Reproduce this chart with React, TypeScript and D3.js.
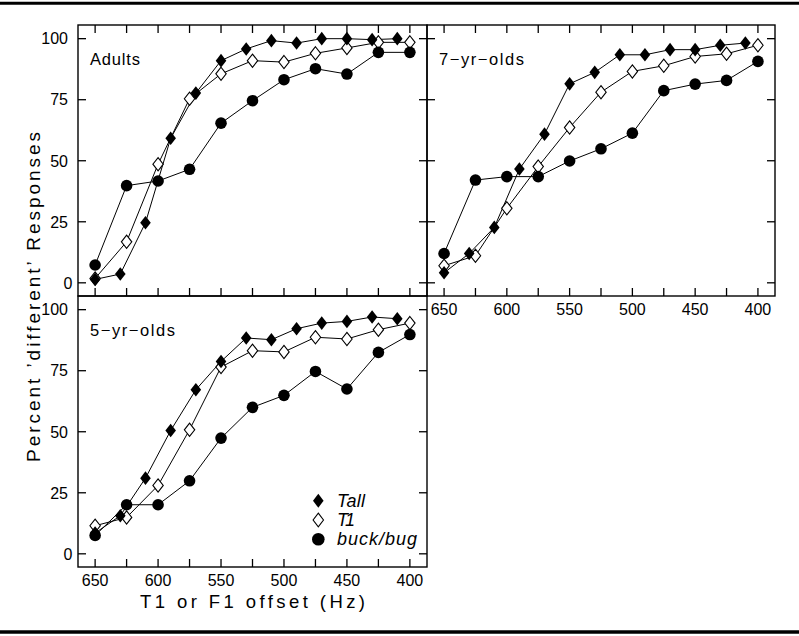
import React from "react";
import * as d3 from "d3";

// ---- data ----
const tallHz = [650, 630, 610, 590, 570, 550, 530, 510, 490, 470, 450, 430, 410];
const t1Hz = [650, 625, 600, 575, 550, 525, 500, 475, 450, 425, 400];
const buckHz = [650, 625, 600, 575, 550, 525, 500, 475, 450, 425, 400];

const adultsTall = [1.4, 3.6, 24.6, 59.2, 77.7, 91, 95.8, 99.2, 98.2, 100, 100, 99.6, 100];
const adultsT1 = [1.8, 16.8, 48.6, 75.4, 85.6, 91, 90.4, 94, 96.2, 98.5, 98.5];
const adultsBuck = [7.3, 39.8, 41.7, 46.5, 65.4, 74.6, 83.2, 87.7, 85.5, 94.4, 94.4];

const sevenTall = [4.1, 12, 22.7, 46.6, 60.9, 81.5, 86.2, 93.4, 93.4, 95.5, 95.5, 97.3, 98.2];
const sevenT1 = [7, 11.1, 30.5, 47.6, 63.6, 78.1, 86.6, 88.9, 92.7, 93.8, 97.3];
const sevenBuck = [12, 42.1, 43.5, 43.5, 49.9, 54.9, 61.3, 78.7, 81.4, 82.9, 90.7];

const fiveTall = [8.5, 15.6, 31, 50.5, 67.2, 78.8, 88.4, 87.7, 92.2, 94.5, 95.2, 97, 96.3];
const fiveT1 = [11.5, 14.9, 28, 50.8, 76.5, 83.2, 82.7, 88.7, 88, 91.8, 94.5];
const fiveBuck = [7.5, 20.1, 20.1, 29.9, 47.4, 60, 64.9, 74.7, 67.5, 82.5, 89.8];

const xTicks = [650, 625, 600, 575, 550, 525, 500, 475, 450, 425, 400];
const xTickLabels = [650, 600, 550, 500, 450, 400];
const yTicks = [0, 25, 50, 75, 100];
const legendLabels = ["Tall", "T1", "buck/bug"];

const FONT = "'Liberation Sans', Arial, sans-serif";

// layout
const colX = [78, 427, 775];
const rowY = [25, 296, 567];
const TICK = 8;

type PanelProps = {
  col: number;
  row: number;
  label: string;
  tall: number[];
  t1: number[];
  buck: number[];
  top: boolean;
  xLabels: boolean;
  yLabels: boolean;
};

const diamond = (hw: number, hh: number) => `M0,${-hh}L${hw},0L0,${hh}L${-hw},0Z`;

function Panel(p: PanelProps) {
  const x0 = colX[p.col], x1 = colX[p.col + 1];
  const y0 = rowY[p.row], y1 = rowY[p.row + 1];
  const x = d3.scaleLinear().domain([663.6, 386.4]).range([x0, x1]);
  const y = d3.scaleLinear().domain([-5.4, 105.6]).range([y1, y0]);
  const line = d3
    .line<[number, number]>()
    .x((d) => x(d[0]))
    .y((d) => y(d[1]));
  const zip = (hz: number[], v: number[]) => hz.map((h, i) => [h, v[i]] as [number, number]);
  const tall = zip(tallHz, p.tall);
  const t1 = zip(t1Hz, p.t1);
  const buck = zip(buckHz, p.buck);
  return (
    <g>
      <rect x={x0} y={y0} width={x1 - x0} height={y1 - y0} fill="none" stroke="#000" strokeWidth={1.4} />
      {xTicks.map((t) => (
        <g key={"xt" + t}>
          <line x1={x(t)} x2={x(t)} y1={y1} y2={y1 - TICK} stroke="#000" strokeWidth={1.3} />
          {p.top && <line x1={x(t)} x2={x(t)} y1={y0} y2={y0 + TICK} stroke="#000" strokeWidth={1.3} />}
        </g>
      ))}
      {yTicks.map((t) => (
        <g key={"yt" + t}>
          <line x1={x0} x2={x0 + TICK} y1={y(t)} y2={y(t)} stroke="#000" strokeWidth={1.3} />
          <line x1={x1} x2={x1 - TICK} y1={y(t)} y2={y(t)} stroke="#000" strokeWidth={1.3} />
          {p.yLabels && (
            <text x={t === 0 ? x0 - 5.5 : x0 - 10} y={y(t)} dy="0.36em" textAnchor="end" fontSize={16} fontFamily={FONT}>
              {t}
            </text>
          )}
        </g>
      ))}
      {p.xLabels &&
        xTickLabels.map((t) => (
          <text key={"xl" + t} x={x(t)} y={y1 + 18.5} textAnchor="middle" fontSize={16} fontFamily={FONT}>
            {t}
          </text>
        ))}
      <text x={x0 + 12} y={y0 + 40} fontSize={16.5} fontFamily={FONT} textLength={p.label.length > 6 ? 85 : 50} lengthAdjust="spacing">
        {p.label}
      </text>
      <path d={line(tall) || ""} fill="none" stroke="#000" strokeWidth={1} />
      <path d={line(t1) || ""} fill="none" stroke="#000" strokeWidth={1} />
      <path d={line(buck) || ""} fill="none" stroke="#000" strokeWidth={1} />
      {t1.map((d, i) => (
        <path key={"h" + i} d={diamond(5.2, 6.6)} transform={`translate(${x(d[0])},${y(d[1])})`} fill="#fff" stroke="#000" strokeWidth={1.1} />
      ))}
      {tall.map((d, i) => (
        <path key={"f" + i} d={diamond(5.3, 6.8)} transform={`translate(${x(d[0])},${y(d[1])})`} fill="#000" />
      ))}
      {buck.map((d, i) => (
        <circle key={"c" + i} cx={x(d[0])} cy={y(d[1])} r={5.8} fill="#000" />
      ))}
    </g>
  );
}

export default function App() {
  const legendY = [500.7, 520, 539.3];
  return (
    <svg width={799} height={636} style={{ position: "absolute", left: 0, top: 0, background: "#fff" }}>
      <rect x={0} y={0} width={799} height={636} fill="#fff" />
      <line x1={0} x2={799} y1={3.2} y2={3.2} stroke="#000" strokeWidth={3} />
      <line x1={0} x2={799} y1={632} y2={632} stroke="#000" strokeWidth={3.5} />
      <Panel col={0} row={0} label="Adults" tall={adultsTall} t1={adultsT1} buck={adultsBuck} top={true} xLabels={false} yLabels={true} />
      <Panel col={1} row={0} label="7−yr−olds" tall={sevenTall} t1={sevenT1} buck={sevenBuck} top={true} xLabels={true} yLabels={false} />
      <Panel col={0} row={1} label="5−yr−olds" tall={fiveTall} t1={fiveT1} buck={fiveBuck} top={false} xLabels={true} yLabels={true} />
      {/* legend */}
      <path d={diamond(5.3, 7)} transform={`translate(318.3,${legendY[0]})`} fill="#000" />
      <path d={diamond(5.2, 6.8)} transform={`translate(318.3,${legendY[1]})`} fill="#fff" stroke="#000" strokeWidth={1.1} />
      <circle cx={318.3} cy={legendY[2]} r={6.3} fill="#000" />
      {legendLabels.map((l, i) => (
        <text key={l} x={337} y={legendY[i] + 6} fontSize={18} fontStyle="italic" fontFamily={FONT} textLength={[28, 18, 80][i]} lengthAdjust="spacing">
          {l}
        </text>
      ))}
      {/* axis titles */}
      <text x={252.5} y={608} textAnchor="middle" fontSize={18.5} fontFamily={FONT} textLength={225} lengthAdjust="spacing">
        T1 or F1 offset (Hz)
      </text>
      <text transform="translate(39.5,297) rotate(-90)" textAnchor="middle" fontSize={19} fontFamily={FONT} textLength={330} lengthAdjust="spacing">
        Percent ’different’ Responses
      </text>
    </svg>
  );
}
